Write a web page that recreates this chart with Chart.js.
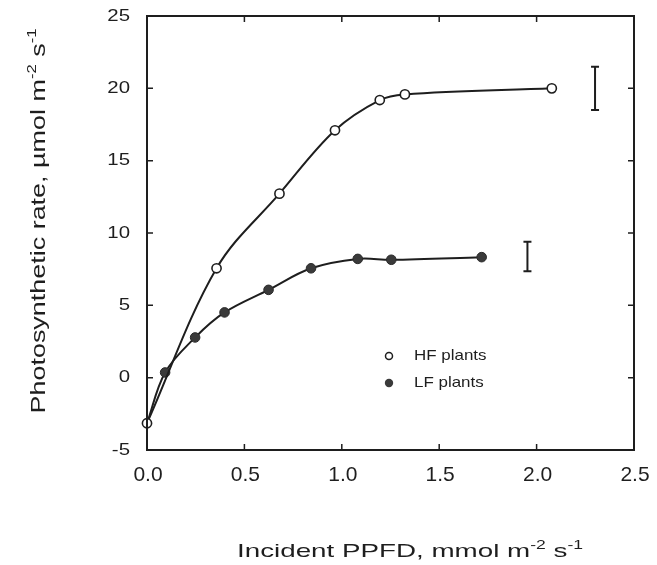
<!DOCTYPE html>
<html>
<head>
<meta charset="utf-8">
<script src="https://cdn.jsdelivr.net/npm/chart.js@4.4.1/dist/chart.umd.min.js"></script>
<style>
html, body { margin: 0; padding: 0; background: #fff; }
</style>
</head>
<body>
<canvas id="chart" width="657" height="565"></canvas>
<script>
// HF plants (open circles)
const hfPPFD = [0, 0.357, 0.68, 0.965, 1.195, 1.324, 2.078];
const hfRate = [-3.15, 7.56, 12.72, 17.1, 19.19, 19.58, 20.0];
// LF plants (filled circles)
const lfPPFD = [0, 0.093, 0.247, 0.398, 0.624, 0.842, 1.082, 1.254, 1.718];
const lfRate = [-3.15, 0.36, 2.78, 4.51, 6.07, 7.56, 8.21, 8.15, 8.33];
// error bars drawn to the right of each curve (HF, LF)
const errPPFD = [2.30, 1.953];
const errLow = [18.5, 7.35];
const errHigh = [21.5, 9.4];
// axis ticks
const xTicks = [0, 0.5, 1.0, 1.5, 2.0, 2.5];
const yTicks = [-5, 0, 5, 10, 15, 20, 25];
const seriesNames = ['HF plants', 'LF plants'];

const INK = '#1e1e1e';
const FONT = '"Liberation Sans", Arial, Helvetica, sans-serif';

function toPoints(xs, ys) {
    return xs.map((x, i) => ({x: x, y: ys[i]}));
}

// draw text, stretched horizontally by sx around the anchor
function stretchText(ctx, text, x, y, size, sx, align, baseline) {
    ctx.save();
    ctx.font = size + 'px ' + FONT;
    ctx.textAlign = align;
    ctx.textBaseline = baseline;
    ctx.translate(x, y);
    ctx.scale(sx, 1);
    ctx.fillText(text, 0, 0);
    ctx.restore();
}

// text with superscript parts, centred on (0,0) baseline, fitted to width w
function supText(ctx, parts, size, w) {
    const base = size + 'px ' + FONT;
    const sup = Math.round(size * 0.62) + 'px ' + FONT;
    let total = 0;
    parts.forEach(p => { ctx.font = p[1] ? sup : base; total += ctx.measureText(p[0]).width; });
    ctx.save();
    ctx.scale(w / total, 1);
    ctx.textAlign = 'left';
    ctx.textBaseline = 'alphabetic';
    let cx = -total / 2;
    parts.forEach(p => {
        ctx.font = p[1] ? sup : base;
        ctx.fillText(p[0], cx, p[1] ? -size * 0.42 : 0);
        cx += ctx.measureText(p[0]).width;
    });
    ctx.restore();
}

const framePlugin = {
    id: 'frame',
    afterDraw(chart) {
        const ctx = chart.ctx;
        const a = chart.chartArea;
        const xs = chart.scales.x, ys = chart.scales.y;
        ctx.save();
        ctx.strokeStyle = INK;
        ctx.fillStyle = INK;
        ctx.lineWidth = 2;
        ctx.strokeRect(a.left, a.top, a.right - a.left, a.bottom - a.top);
        // inward ticks on all four sides
        ctx.lineWidth = 1.5;
        ctx.beginPath();
        xTicks.forEach(v => {
            const px = xs.getPixelForValue(v);
            ctx.moveTo(px, a.bottom); ctx.lineTo(px, a.bottom - 6);
            ctx.moveTo(px, a.top); ctx.lineTo(px, a.top + 6);
        });
        yTicks.forEach(v => {
            const py = ys.getPixelForValue(v);
            ctx.moveTo(a.left, py); ctx.lineTo(a.left + 6, py);
            ctx.moveTo(a.right, py); ctx.lineTo(a.right - 6, py);
        });
        ctx.stroke();
        // tick labels
        xTicks.forEach(v => {
            stretchText(ctx, v.toFixed(1), xs.getPixelForValue(v) + 1, a.bottom + 25, 21, 1.0, 'center', 'middle');
        });
        yTicks.forEach(v => {
            stretchText(ctx, String(v), a.left - 17, ys.getPixelForValue(v), 17, 1.2, 'right', 'middle');
        });
        // axis titles
        ctx.save();
        ctx.translate(410, 557);
        supText(ctx, [['Incident PPFD, mmol m', false], ['-2', true], [' s', false], ['-1', true]], 19, 346);
        ctx.restore();
        ctx.save();
        ctx.translate(45, 221);
        ctx.rotate(-Math.PI / 2);
        supText(ctx, [['Photosynthetic rate, \u00b5mol m', false], ['-2', true], [' s', false], ['-1', true]], 21, 385);
        ctx.restore();
        // legend
        const lx = 389, ly = [356, 383];
        ctx.lineWidth = 1.5;
        ctx.beginPath();
        ctx.arc(lx, ly[0], 3.5, 0, Math.PI * 2);
        ctx.fillStyle = '#fff';
        ctx.fill();
        ctx.stroke();
        ctx.beginPath();
        ctx.arc(lx, ly[1], 4.2, 0, Math.PI * 2);
        ctx.fillStyle = '#3a3a3a';
        ctx.fill();
        ctx.fillStyle = INK;
        seriesNames.forEach((n, i) => stretchText(ctx, n, 414, ly[i], 15, 1.13, 'left', 'middle'));
        ctx.restore();
    }
};

const errorBarPlugin = {
    id: 'errorBars',
    afterDatasetsDraw(chart) {
        const ctx = chart.ctx;
        const xs = chart.scales.x, ys = chart.scales.y;
        ctx.save();
        ctx.strokeStyle = INK;
        ctx.lineWidth = 2;
        ctx.beginPath();
        errPPFD.forEach((x, i) => {
            const px = xs.getPixelForValue(x);
            const y1 = ys.getPixelForValue(errLow[i]);
            const y2 = ys.getPixelForValue(errHigh[i]);
            ctx.moveTo(px, y1); ctx.lineTo(px, y2);
            ctx.moveTo(px - 4, y1); ctx.lineTo(px + 4, y1);
            ctx.moveTo(px - 4, y2); ctx.lineTo(px + 4, y2);
        });
        ctx.stroke();
        ctx.restore();
    }
};

let ctx = document.getElementById('chart').getContext('2d');
let chart = new Chart(ctx, {
    type: 'line',
    data: {
        datasets: [{
            label: seriesNames[0],
            data: toPoints(hfPPFD, hfRate),
            borderColor: INK,
            borderWidth: 2,
            pointRadius: 4.6,
            pointBorderWidth: 1.6,
            pointBackgroundColor: '#fff',
            pointBorderColor: INK,
            tension: 0.35,
            clip: false,
            order: 0
        }, {
            label: seriesNames[1],
            data: toPoints(lfPPFD, lfRate),
            borderColor: INK,
            borderWidth: 2,
            pointRadius: lfPPFD.map((x, i) => i === 0 ? 0 : 4.8),
            pointBorderWidth: 1,
            pointBackgroundColor: '#3a3a3a',
            pointBorderColor: '#2a2a2a',
            tension: 0.35,
            clip: false,
            order: 1
        }]
    },
    options: {
        responsive: false,
        animation: false,
        devicePixelRatio: 1,
        layout: {padding: {top: 16, right: 23, left: 0, bottom: 0}},
        plugins: {legend: {display: false}, tooltip: {enabled: false}},
        scales: {
            x: {
                type: 'linear', min: 0, max: 2.5,
                ticks: {display: false, stepSize: 0.5},
                grid: {display: false},
                border: {display: false},
                afterFit: (scale) => { scale.height = 115; }
            },
            y: {
                type: 'linear', min: -5, max: 25,
                ticks: {display: false, stepSize: 5},
                grid: {display: false},
                border: {display: false},
                afterFit: (scale) => { scale.width = 147; }
            }
        }
    },
    plugins: [errorBarPlugin, framePlugin]
});
</script>
</body>
</html>
